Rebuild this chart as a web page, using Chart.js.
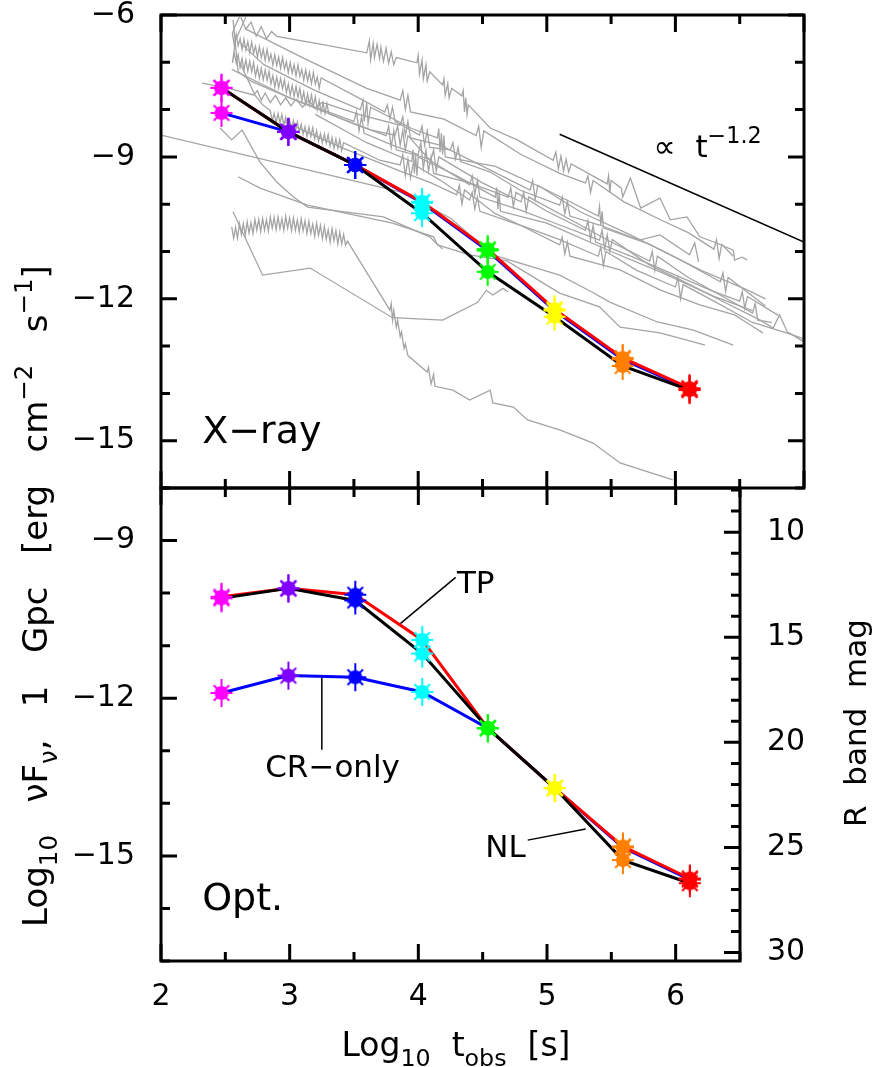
<!DOCTYPE html>
<html lang="en">
<head>
    <meta charset="UTF-8">
    <title>X-ray and optical afterglow light curves</title>
    <script src="https://cdn.jsdelivr.net/npm/chart.js"></script>
    <style>
        body { margin: 0; background: #fff; }
        .figure { position: relative; width: 875px; height: 1067px; }
        .figure canvas { position: absolute; left: 0; top: 0; }
    </style>
</head>
<body>
    <div class="figure">
        <canvas id="xrayChart" width="875" height="1067"></canvas>
        <canvas id="optChart" width="875" height="1067"></canvas>
    </div>

    <script>
        // log10 t_obs [s] of the eight model epochs
        const epochs = [2.47, 2.99, 3.51, 4.03, 4.54, 5.06, 5.59, 6.11];
        const epochColors = ['#ff00ff', '#8000ff', '#0000ff', '#00ffff', '#00ff00', '#ffff00', '#ff8000', '#ff0000'];

        // X-ray panel, log10 nuFnu
        const xrayTP = [-7.54, -8.47, -9.17, -9.95, -10.95, -12.22, -13.25, -13.89];
        const xrayNL = [-7.54, -8.47, -9.17, -10.19, -11.43, -12.38, -13.42, -13.93];
        const xrayCR = [-8.07, -8.47, -9.17, -9.97, -10.98, -12.25, -13.28, -13.91];

        // optical panel, log10 nuFnu
        const optTP = [-10.07, -9.91, -10.03, -10.89, -12.57, -13.71, -14.82, -15.43];
        const optNL = [-10.10, -9.91, -10.14, -11.15, -12.57, -13.71, -15.08, -15.52];
        const optCR = [-11.90, -11.57, -11.60, -11.88, -12.57, -13.71, -14.84, -15.45];

        // R band mag = -2.5 log10(nuFnu) + magZero
        const magZero = -12.1;

        // tick labels
        const timeLabels = [2, 3, 4, 5, 6];
        const xrayFluxLabels = [-15, -12, -9, -6];
        const optFluxLabels = [-15, -12, -9];
        const magLabels = [10, 15, 20, 25, 30];

        // observed X-ray afterglows (grey), [log t, log nuFnu]
        const grey01 = [[2.62,-6.05],[2.66,-6.30],[2.70,-6.15],[2.74,-6.45],[2.78,-6.25],[2.82,-6.50],[2.86,-6.35],[2.90,-6.45],[3.25,-6.62],[3.60,-6.80],[3.62,-6.55],[3.63,-6.95],[3.65,-6.60],[3.66,-6.90],[3.68,-6.62],[3.70,-6.92],[3.71,-6.68],[3.73,-6.98],[3.75,-6.70],[3.77,-7.02],[3.79,-6.78],[3.81,-7.05],[3.83,-6.90],[3.99,-7.01],[4.00,-6.85],[4.01,-7.25],[4.03,-6.95],[4.04,-7.35],[4.06,-7.05],[4.07,-7.40],[4.09,-7.20],[4.19,-7.48],[4.20,-7.35],[4.21,-7.70],[4.23,-7.45],[4.24,-7.75],[4.26,-7.55],[4.34,-7.71],[4.35,-7.60],[4.36,-8.05],[4.37,-7.75],[4.38,-8.10],[4.39,-7.90],[4.56,-8.39],[4.77,-8.64],[5.05,-9.07],[5.07,-8.90],[5.09,-9.25],[5.11,-8.98],[5.13,-9.30],[5.15,-9.05],[5.17,-9.32],[5.19,-9.15],[5.47,-9.57],[5.48,-9.40],[5.49,-9.75],[5.50,-9.50],[5.58,-9.66],[5.59,-9.85],[5.65,-9.45],[5.73,-10.08],[5.88,-9.87],[5.96,-10.33],[6.09,-10.27],[6.19,-10.69],[6.32,-10.82],[6.45,-10.97],[6.46,-11.18],[6.52,-11.12],[6.56,-11.18]];
        const grey02 = [[2.61,-6.04],[2.57,-6.27],[2.555,-6.40],[2.570,-6.64],[2.585,-6.41],[2.600,-6.65],[2.615,-6.50],[2.630,-6.73],[2.645,-6.51],[2.660,-6.74],[2.675,-6.56],[2.690,-6.80],[2.705,-6.57],[2.720,-6.81],[2.735,-6.66],[2.750,-6.89],[2.765,-6.67],[2.780,-6.90],[2.795,-6.72],[2.810,-6.96],[2.825,-6.73],[2.840,-6.97],[2.855,-6.83],[2.870,-7.06],[2.885,-6.84],[2.900,-7.07],[2.915,-6.89],[2.930,-7.13],[2.945,-6.90],[2.960,-7.14],[2.975,-6.99],[2.990,-7.22],[3.005,-7.00],[3.020,-7.23],[3.035,-7.05],[3.050,-7.29],[3.065,-7.06],[3.080,-7.30],[3.095,-7.15],[3.110,-7.38],[3.125,-7.16],[3.140,-7.39],[3.155,-7.21],[3.170,-7.45],[3.185,-7.22],[3.200,-7.46],[3.215,-7.31],[3.230,-7.55],[3.245,-7.33],[3.57,-7.80],[3.74,-8.05],[3.76,-7.90],[3.78,-8.20],[3.80,-7.95],[3.82,-8.25],[4.01,-8.54],[4.03,-8.35],[4.05,-8.75],[4.07,-8.45],[4.09,-8.80],[4.25,-8.85],[4.27,-8.70],[4.29,-9.05],[4.31,-8.80],[4.33,-9.10],[4.56,-9.32],[4.79,-9.70],[5.10,-10.02],[5.12,-9.85],[5.14,-10.20],[5.16,-9.95],[5.18,-10.25],[5.41,-10.44],[5.72,-10.76],[5.88,-10.65],[6.11,-11.07],[6.15,-10.82],[6.18,-11.22]];
        const grey03 = [[2.66,-6.04],[2.58,-6.53],[2.555,-7.01],[2.570,-6.80],[2.585,-7.02],[2.600,-6.84],[2.615,-7.11],[2.630,-6.92],[2.645,-7.16],[2.660,-6.95],[2.675,-7.19],[2.690,-6.98],[2.705,-7.20],[2.720,-7.01],[2.735,-7.29],[2.750,-7.10],[2.765,-7.34],[2.780,-7.13],[2.795,-7.37],[2.810,-7.16],[2.825,-7.38],[2.840,-7.19],[2.855,-7.46],[2.870,-7.28],[2.885,-7.52],[2.900,-7.31],[2.915,-7.54],[2.930,-7.34],[2.945,-7.56],[2.960,-7.37],[2.975,-7.64],[2.990,-7.46],[3.005,-7.70],[3.020,-7.49],[3.035,-7.72],[3.050,-7.51],[3.065,-7.74],[3.080,-7.55],[3.095,-7.82],[3.110,-7.63],[3.125,-7.88],[3.140,-7.67],[3.155,-7.90],[3.170,-7.69],[3.185,-7.92],[3.200,-7.73],[3.215,-8.00],[3.230,-7.81],[3.245,-8.06],[3.260,-7.85],[3.275,-8.08],[3.290,-7.87],[3.305,-8.09],[3.63,-8.43],[3.82,-8.54],[3.84,-8.35],[3.86,-8.75],[3.88,-8.45],[3.90,-8.85],[3.92,-8.55],[4.09,-9.07],[4.40,-9.59],[4.42,-9.40],[4.44,-9.80],[4.46,-9.50],[4.48,-9.85],[4.79,-10.12],[5.10,-10.44],[5.41,-10.76],[5.43,-10.55],[5.45,-10.95],[5.47,-10.65],[5.49,-11.00],[5.51,-10.75],[5.80,-11.29],[6.04,-11.60],[6.35,-12.03],[6.66,-12.45],[6.76,-12.62],[6.81,-12.34],[6.87,-12.70],[7.00,-12.91]];
        const grey04 = [[2.61,-6.99],[2.73,-7.69],[2.79,-7.90],[2.850,-8.02],[2.865,-8.24],[2.880,-8.08],[2.895,-8.28],[2.910,-8.08],[2.925,-8.28],[2.940,-8.10],[2.955,-8.34],[2.970,-8.16],[2.985,-8.38],[3.000,-8.22],[3.015,-8.39],[3.030,-8.23],[3.045,-8.46],[3.060,-8.26],[3.075,-8.46],[3.090,-8.31],[3.105,-8.52],[3.120,-8.36],[3.135,-8.57],[3.150,-8.37],[3.165,-8.57],[3.180,-8.38],[3.195,-8.62],[3.210,-8.45],[3.225,-8.67],[3.240,-8.51],[3.255,-8.71],[3.270,-8.52],[3.285,-8.71],[3.300,-8.53],[3.315,-8.77],[3.330,-8.59],[3.345,-8.82],[3.360,-8.62],[3.375,-8.82],[3.390,-8.63],[3.405,-8.87],[3.420,-8.70],[3.70,-9.07],[3.86,-9.17],[3.88,-8.95],[3.90,-9.40],[3.92,-9.05],[3.94,-9.45],[3.96,-9.15],[4.17,-9.49],[4.40,-9.91],[4.42,-9.75],[4.44,-10.10],[4.46,-9.85],[4.48,-10.15],[4.79,-10.44],[5.10,-10.86],[5.12,-10.70],[5.14,-11.05],[5.16,-10.80],[5.18,-11.10],[5.57,-11.39],[5.88,-11.81],[6.19,-12.13],[6.46,-12.34],[6.58,-12.55],[6.68,-12.72]];
        const grey05 = [[2.32,-7.44],[2.51,-7.54],[2.72,-7.69],[2.75,-7.60],[2.78,-7.80],[2.81,-7.65],[2.85,-7.85],[2.89,-7.70],[2.93,-7.90],[2.97,-7.75],[3.01,-7.92],[3.05,-7.78],[3.10,-7.95],[3.15,-7.80],[3.20,-7.98],[3.25,-7.85],[3.29,-7.88],[3.55,-8.11],[3.86,-8.33],[3.88,-8.15],[3.90,-8.55],[3.92,-8.25],[3.94,-8.60],[4.17,-8.75],[4.48,-9.17],[4.87,-9.70],[4.89,-9.50],[4.91,-9.90],[4.93,-9.60],[5.26,-10.16],[5.65,-10.65],[6.04,-11.18],[6.35,-11.64],[6.37,-11.45],[6.39,-11.85],[6.41,-11.55],[6.70,-12.15]];
        const grey06 = [[2.56,-6.10],[2.60,-7.20],[2.70,-7.40],[3.00,-7.75],[3.30,-8.05],[3.50,-8.25],[3.52,-8.05],[3.54,-8.45],[3.56,-8.15],[3.58,-8.50],[3.80,-8.75],[4.00,-8.95],[4.02,-8.70],[4.04,-9.25],[4.06,-8.85],[4.08,-9.30],[4.10,-9.00],[4.12,-9.35],[4.40,-9.55],[4.70,-9.85],[4.72,-9.65],[4.74,-10.05],[4.76,-9.75],[5.00,-10.15],[5.30,-10.55],[5.32,-10.35],[5.34,-10.75],[5.36,-10.45],[5.38,-10.80],[5.70,-11.15],[6.00,-11.50],[6.30,-11.85],[6.50,-12.05],[6.52,-11.85],[6.54,-12.20],[6.56,-11.95],[6.80,-12.35]];
        const grey07 = [[2.66,-6.30],[3.10,-6.90],[3.60,-7.55],[3.86,-7.80],[3.88,-7.60],[3.90,-8.00],[3.92,-7.70],[3.94,-8.05],[4.20,-8.20],[4.45,-8.55],[4.47,-8.35],[4.49,-8.80],[4.51,-8.45],[4.80,-8.95],[5.10,-9.35],[5.30,-9.55],[5.32,-9.40],[5.34,-9.75],[5.36,-9.50],[5.60,-9.95],[5.90,-10.35],[6.10,-10.60],[6.30,-10.95],[6.32,-10.75],[6.34,-11.15],[6.36,-10.85],[6.45,-11.10]];
        const grey08 = [[2.55,-7.15],[3.00,-7.75],[3.50,-8.30],[3.75,-8.55],[3.77,-8.35],[3.79,-8.80],[3.81,-8.45],[3.83,-8.85],[4.10,-9.05],[4.12,-8.85],[4.14,-9.30],[4.16,-9.00],[4.50,-9.55],[4.80,-9.95],[4.82,-9.75],[4.84,-10.15],[4.86,-9.85],[5.20,-10.35],[5.50,-10.80],[5.80,-11.20],[5.82,-11.00],[5.84,-11.40],[5.86,-11.10],[6.10,-11.55],[6.40,-12.00],[6.60,-12.30],[6.62,-12.10],[6.64,-12.45],[6.75,-12.50]];
        const grey09 = [[2.95,-8.25],[3.40,-8.80],[3.86,-9.30],[4.10,-9.55],[4.30,-9.80],[4.32,-9.60],[4.34,-10.00],[4.36,-9.70],[4.60,-10.20],[4.80,-10.45],[5.10,-10.75],[5.40,-11.10],[5.42,-10.90],[5.44,-11.30],[5.46,-11.00],[5.70,-11.40],[6.00,-11.75],[6.02,-11.55],[6.04,-12.00],[6.06,-11.70],[6.30,-12.05],[6.60,-12.50],[6.90,-12.75],[7.00,-12.85]];
        const grey10 = [[2.550,-10.48],[2.565,-10.72],[2.580,-10.49],[2.595,-10.72],[2.610,-10.41],[2.625,-10.64],[2.640,-10.41],[2.655,-10.66],[2.670,-10.37],[2.685,-10.61],[2.700,-10.39],[2.715,-10.62],[2.730,-10.32],[2.745,-10.55],[2.760,-10.32],[2.775,-10.58],[2.790,-10.30],[2.805,-10.55],[2.820,-10.33],[2.835,-10.57],[2.850,-10.27],[2.865,-10.51],[2.880,-10.28],[2.895,-10.54],[2.910,-10.27],[2.925,-10.52],[2.940,-10.31],[2.955,-10.55],[2.970,-10.26],[2.985,-10.51],[3.000,-10.29],[3.015,-10.56],[3.030,-10.29],[3.045,-10.55],[3.060,-10.34],[3.075,-10.59],[3.090,-10.31],[3.105,-10.56],[3.120,-10.35],[3.135,-10.62],[3.150,-10.36],[3.165,-10.62],[3.180,-10.42],[3.195,-10.68],[3.210,-10.40],[3.225,-10.66],[3.240,-10.45],[3.255,-10.73],[3.270,-10.47],[3.285,-10.74],[3.300,-10.54],[3.315,-10.80],[3.330,-10.52],[3.345,-10.77],[3.360,-10.56],[3.375,-10.84],[3.390,-10.59],[3.405,-10.84],[3.420,-10.64],[3.435,-10.86],[3.450,-10.78],[3.78,-12.24],[3.79,-12.10],[3.80,-12.45],[3.81,-12.25],[3.83,-12.60],[3.84,-12.45],[3.86,-12.80],[3.87,-12.70],[3.89,-13.05],[3.90,-12.95],[3.92,-13.20],[4.07,-13.55],[4.08,-13.45],[4.10,-13.80],[4.12,-13.60],[4.13,-13.85],[4.27,-13.93],[4.40,-14.14],[4.56,-13.93],[4.58,-14.20],[4.74,-14.29],[4.85,-14.56],[5.10,-14.77],[5.36,-15.05],[5.57,-15.47],[5.98,-15.83]];
        const grey11 = [[2.56,-10.16],[2.79,-11.50],[3.16,-11.35],[3.80,-12.40],[4.19,-12.45],[4.46,-12.08],[4.53,-11.82],[4.58,-11.92],[4.66,-11.78],[4.70,-11.85]];
        const grey12 = [[2.46,-8.39],[2.55,-8.64],[2.63,-8.43],[2.77,-9.11],[2.90,-9.53],[3.03,-9.85],[3.14,-10.06],[3.73,-10.27],[4.09,-10.69],[4.13,-10.80],[4.19,-10.95]];
        const grey13 = [[2.60,-9.42],[2.77,-9.66],[3.14,-10.02],[3.80,-10.40],[4.12,-10.69],[4.15,-10.86],[4.40,-11.07],[4.69,-11.20],[5.10,-11.88],[5.41,-12.17],[5.57,-12.60],[5.88,-12.72],[6.14,-12.91],[6.23,-12.98]];
        const grey14 = [[2.00,-8.54],[3.86,-9.74],[4.25,-10.29],[4.58,-11.07],[5.10,-11.50],[5.34,-11.84],[5.49,-12.07],[5.86,-12.49],[6.14,-12.66],[6.45,-12.98]];
        const grey15 = [[2.62,-6.60],[2.80,-7.05],[3.20,-7.60],[3.55,-8.00],[3.57,-7.80],[3.58,-8.25],[3.60,-7.85],[3.61,-8.30],[3.63,-7.95],[3.95,-8.40],[4.15,-8.60],[4.16,-8.40],[4.17,-8.90],[4.18,-8.50],[4.19,-8.95],[4.20,-8.55],[4.21,-9.00],[4.60,-9.20],[5.00,-9.70],[5.40,-10.25],[5.41,-10.05],[5.42,-10.45],[5.43,-10.15],[5.44,-10.50],[5.80,-10.85],[6.20,-11.40],[6.55,-11.80],[6.70,-12.00]];
        const grey16 = [[3.20,-8.10],[3.60,-8.70],[3.95,-9.10],[3.96,-8.85],[3.97,-9.35],[3.98,-8.95],[3.99,-9.40],[4.00,-9.00],[4.30,-9.40],[4.60,-9.85],[4.61,-9.65],[4.62,-10.10],[4.63,-9.75],[4.64,-10.15],[5.00,-10.40],[5.50,-11.00],[5.90,-11.45],[6.30,-11.95],[6.60,-12.25]];
        const observed = [grey01, grey02, grey03, grey04, grey05, grey06, grey07, grey08, grey09, grey10, grey11, grey12, grey13, grey14, grey15, grey16];

        const FONT = '"DejaVu Sans", sans-serif';

        // star-like marker: filled disc with eight spikes
        function makeMarker(color) {
            const c = document.createElement('canvas');
            c.width = 30; c.height = 32;
            const g = c.getContext('2d');
            g.translate(15, 16);
            g.strokeStyle = color;
            g.lineWidth = 2;
            for (let k = 0; k < 8; k++) {
                const a = k * Math.PI / 4;
                const r = (k % 4 === 2) ? 14 : 11;
                g.beginPath();
                g.moveTo(0, 0);
                g.lineTo(r * Math.cos(a), r * Math.sin(a));
                g.stroke();
            }
            g.fillStyle = color;
            g.beginPath();
            g.arc(0, 0, 7, 0, Math.PI * 2);
            g.fill();
            return c;
        }
        const markerImages = epochColors.map(makeMarker);

        const toXY = pairs => pairs.map(([x, y]) => ({ x, y }));
        const series = vals => vals.map((y, i) => ({ x: epochs[i], y }));
        const minusLabel = v => (v < 0 ? '\u2212' : '') + Math.abs(v);

        // text with sub/superscripts: parts = [text, shift]
        function drawRich(ctx, parts, x, y, size, align) {
            const fontFor = s => (s ? size * 0.72 : size) + 'px ' + FONT;
            const widths = parts.map(([t, s]) => { ctx.font = fontFor(s); return ctx.measureText(t).width; });
            const total = widths.reduce((a, b) => a + b, 0);
            let cx = align === 'center' ? x - total / 2 : x;
            ctx.textAlign = 'left';
            ctx.textBaseline = 'alphabetic';
            parts.forEach(([t, s], i) => {
                ctx.font = fontFor(s);
                const dy = s < 0 ? size * 0.3 : s > 0 ? -size * 0.45 : 0;
                ctx.fillText(t, cx, y + dy);
                cx += widths[i];
            });
        }

        function fixedScale(size, horizontal) {
            return function (scale) {
                if (horizontal) scale.height = size; else scale.width = size;
                scale.paddingLeft = scale.paddingRight = scale.paddingTop = scale.paddingBottom = 0;
            };
        }
        const setTicks = values => scale => { scale.ticks = values.map(v => ({ value: v })); };

        function frameAndTicks(spec) {
            return {
                id: 'frameAndTicks',
                afterDatasetsDraw(chart) {
                    const { ctx, chartArea: a } = chart;
                    const sx = chart.scales.x, sy = chart.scales.y;
                    ctx.save();
                    ctx.strokeStyle = '#000';
                    ctx.lineWidth = 3;
                    ctx.beginPath();
                    for (let v = sx.min; v <= sx.max + 1e-9; v += 0.5) {
                        const px = sx.getPixelForValue(v);
                        const len = Number.isInteger(v) ? 17 : 9;
                        ctx.moveTo(px, a.bottom); ctx.lineTo(px, a.bottom - len);
                        ctx.moveTo(px, a.top); ctx.lineTo(px, a.top + len);
                    }
                    for (let v = Math.ceil(sy.min); v <= sy.max; v++) {
                        const py = sy.getPixelForValue(v);
                        const len = v % 3 === 0 ? 16 : 9;
                        ctx.moveTo(a.left, py); ctx.lineTo(a.left + len, py);
                        if (!spec.mag) { ctx.moveTo(a.right, py); ctx.lineTo(a.right - len, py); }
                    }
                    if (spec.mag) {
                        const sm = chart.scales.mag;
                        for (let m = Math.ceil(sm.min); m <= sm.max; m++) {
                            const py = sm.getPixelForValue(m);
                            const len = m % 5 === 0 ? 16 : 9;
                            ctx.moveTo(a.right, py); ctx.lineTo(a.right - len, py);
                        }
                    }
                    ctx.stroke();
                    ctx.strokeRect(a.left, a.top, a.right - a.left, a.bottom - a.top);

                    ctx.fillStyle = '#000';
                    spec.texts.forEach(t => {
                        drawRich(ctx, t.parts, sx.getPixelForValue(t.x), sy.getPixelForValue(t.y), t.size, 'left');
                    });
                    spec.titles.forEach(t => {
                        ctx.save();
                        ctx.translate(t.x, t.y);
                        if (t.rotate) ctx.rotate(-Math.PI / 2);
                        drawRich(ctx, t.parts, 0, 0, t.size, 'center');
                        ctx.restore();
                    });
                    ctx.restore();
                }
            };
        }

        function modelDatasets(tp, nl, cr, extra) {
            const marks = [];
            const styles = [];
            [cr, tp, nl].forEach(vals => vals.forEach((y, i) => { marks.push({ x: epochs[i], y }); styles.push(markerImages[i]); }));
            const sets = [
                { data: marks, showLine: false, pointStyle: styles, pointRadius: 8, order: 0 },
                { data: series(nl), borderColor: '#000000', borderWidth: 3, pointRadius: 0, order: 1 },
                { data: series(tp), borderColor: '#ff0000', borderWidth: 3, pointRadius: 0, order: 2 },
                { data: series(cr), borderColor: '#0000ff', borderWidth: 3, pointRadius: 0, order: 3 }
            ];
            extra.forEach(line => sets.push({ data: toXY(line), borderColor: '#000', borderWidth: 1.5, pointRadius: 0, order: 4 }));
            return sets;
        }

        const baseOptions = {
            responsive: false,
            animation: false,
            devicePixelRatio: 1,
            plugins: { legend: { display: false }, tooltip: { enabled: false } },
            elements: { line: { tension: 0 } }
        };
        const labelTicks = (pad) => ({ color: '#000', font: { family: FONT, size: 30 }, padding: pad });
        const noGrid = { display: false, drawTicks: false };

        // slope guide and label leaders, in data coordinates
        const slopeGuide = [[5.10, -8.52], [7.00, -10.80]];
        const tpLeader = [[4.29, -9.70], [3.86, -10.58]];
        const crLeader = [[3.25, -11.61], [3.25, -12.98]];
        const nlLeader = [[4.85, -14.70], [5.30, -14.49]];

        // top panel: X-ray
        const greySets = observed.map(c => ({ data: toXY(c), borderColor: '#a4a4a4', borderWidth: 1.3, pointRadius: 0, order: 10 }));
        new Chart(document.getElementById('xrayChart'), {
            type: 'line',
            data: { datasets: modelDatasets(xrayTP, xrayNL, xrayCR, [slopeGuide]).concat(greySets) },
            options: Object.assign({}, baseOptions, {
                layout: { padding: { top: 15, left: 0, right: 71, bottom: 579 } },
                scales: {
                    x: { type: 'linear', min: 2, max: 7, display: false },
                    y: {
                        type: 'linear', min: -16, max: -6, position: 'left',
                        afterBuildTicks: setTicks(xrayFluxLabels), afterFit: fixedScale(161),
                        grid: noGrid, border: { display: false },
                        ticks: Object.assign(labelTicks(26), { callback: minusLabel })
                    }
                }
            }),
            plugins: [frameAndTicks({
                mag: false,
                texts: [
                    { x: 2.32, y: -15.05, size: 38, parts: [['X\u2212ray', 0]] },
                    { x: 5.83, y: -9.00, size: 31, parts: [['\u221D  t', 0], ['\u22121.2', 1]] }
                ],
                titles: [
                    { x: 47, y: 596, rotate: true, size: 34, parts: [['Log', 0], ['10', -1], ['   \u03BDF', 0], ['\u03BD', -1], [',   1   Gpc   [erg   cm', 0], ['\u22122', 1], ['   s', 0], ['\u22121', 1], [']', 0]] }
                ]
            })]
        });

        // bottom panel: optical, with R band magnitude on the right
        new Chart(document.getElementById('optChart'), {
            type: 'line',
            data: { datasets: modelDatasets(optTP, optNL, optCR, [tpLeader, crLeader, nlLeader]) },
            options: Object.assign({}, baseOptions, {
                layout: { padding: { top: 488, left: 0, right: 0, bottom: 0 } },
                scales: {
                    x: {
                        type: 'linear', min: 2, max: 6.5, position: 'bottom',
                        afterBuildTicks: setTicks(timeLabels), afterFit: fixedScale(106, true),
                        grid: noGrid, border: { display: false }, ticks: labelTicks(18)
                    },
                    y: {
                        type: 'linear', min: -17, max: -8, position: 'left',
                        afterBuildTicks: setTicks(optFluxLabels), afterFit: fixedScale(161),
                        grid: noGrid, border: { display: false },
                        ticks: Object.assign(labelTicks(26), { callback: minusLabel })
                    },
                    mag: {
                        type: 'linear', position: 'right', reverse: true,
                        min: -2.5 * -8 + magZero, max: -2.5 * -17 + magZero,
                        afterBuildTicks: setTicks(magLabels), afterFit: fixedScale(135),
                        grid: noGrid, border: { display: false }, ticks: labelTicks(27)
                    }
                }
            }),
            plugins: [frameAndTicks({
                mag: true,
                texts: [
                    { x: 2.32, y: -16.03, size: 38, parts: [['Opt.', 0]] },
                    { x: 4.30, y: -9.99, size: 31, parts: [['TP', 0]] },
                    { x: 2.81, y: -13.50, size: 31, parts: [['CR\u2212only', 0]] },
                    { x: 4.52, y: -15.02, size: 31, parts: [['NL', 0]] }
                ],
                titles: [
                    { x: 456, y: 1056, rotate: false, size: 33, parts: [['Log', 0], ['10', -1], ['  t', 0], ['obs', -1], ['  [s]', 0]] },
                    { x: 866, y: 723, rotate: true, size: 31, parts: [['R  band  mag', 0]] }
                ]
            })]
        });
    </script>
</body>
</html>
